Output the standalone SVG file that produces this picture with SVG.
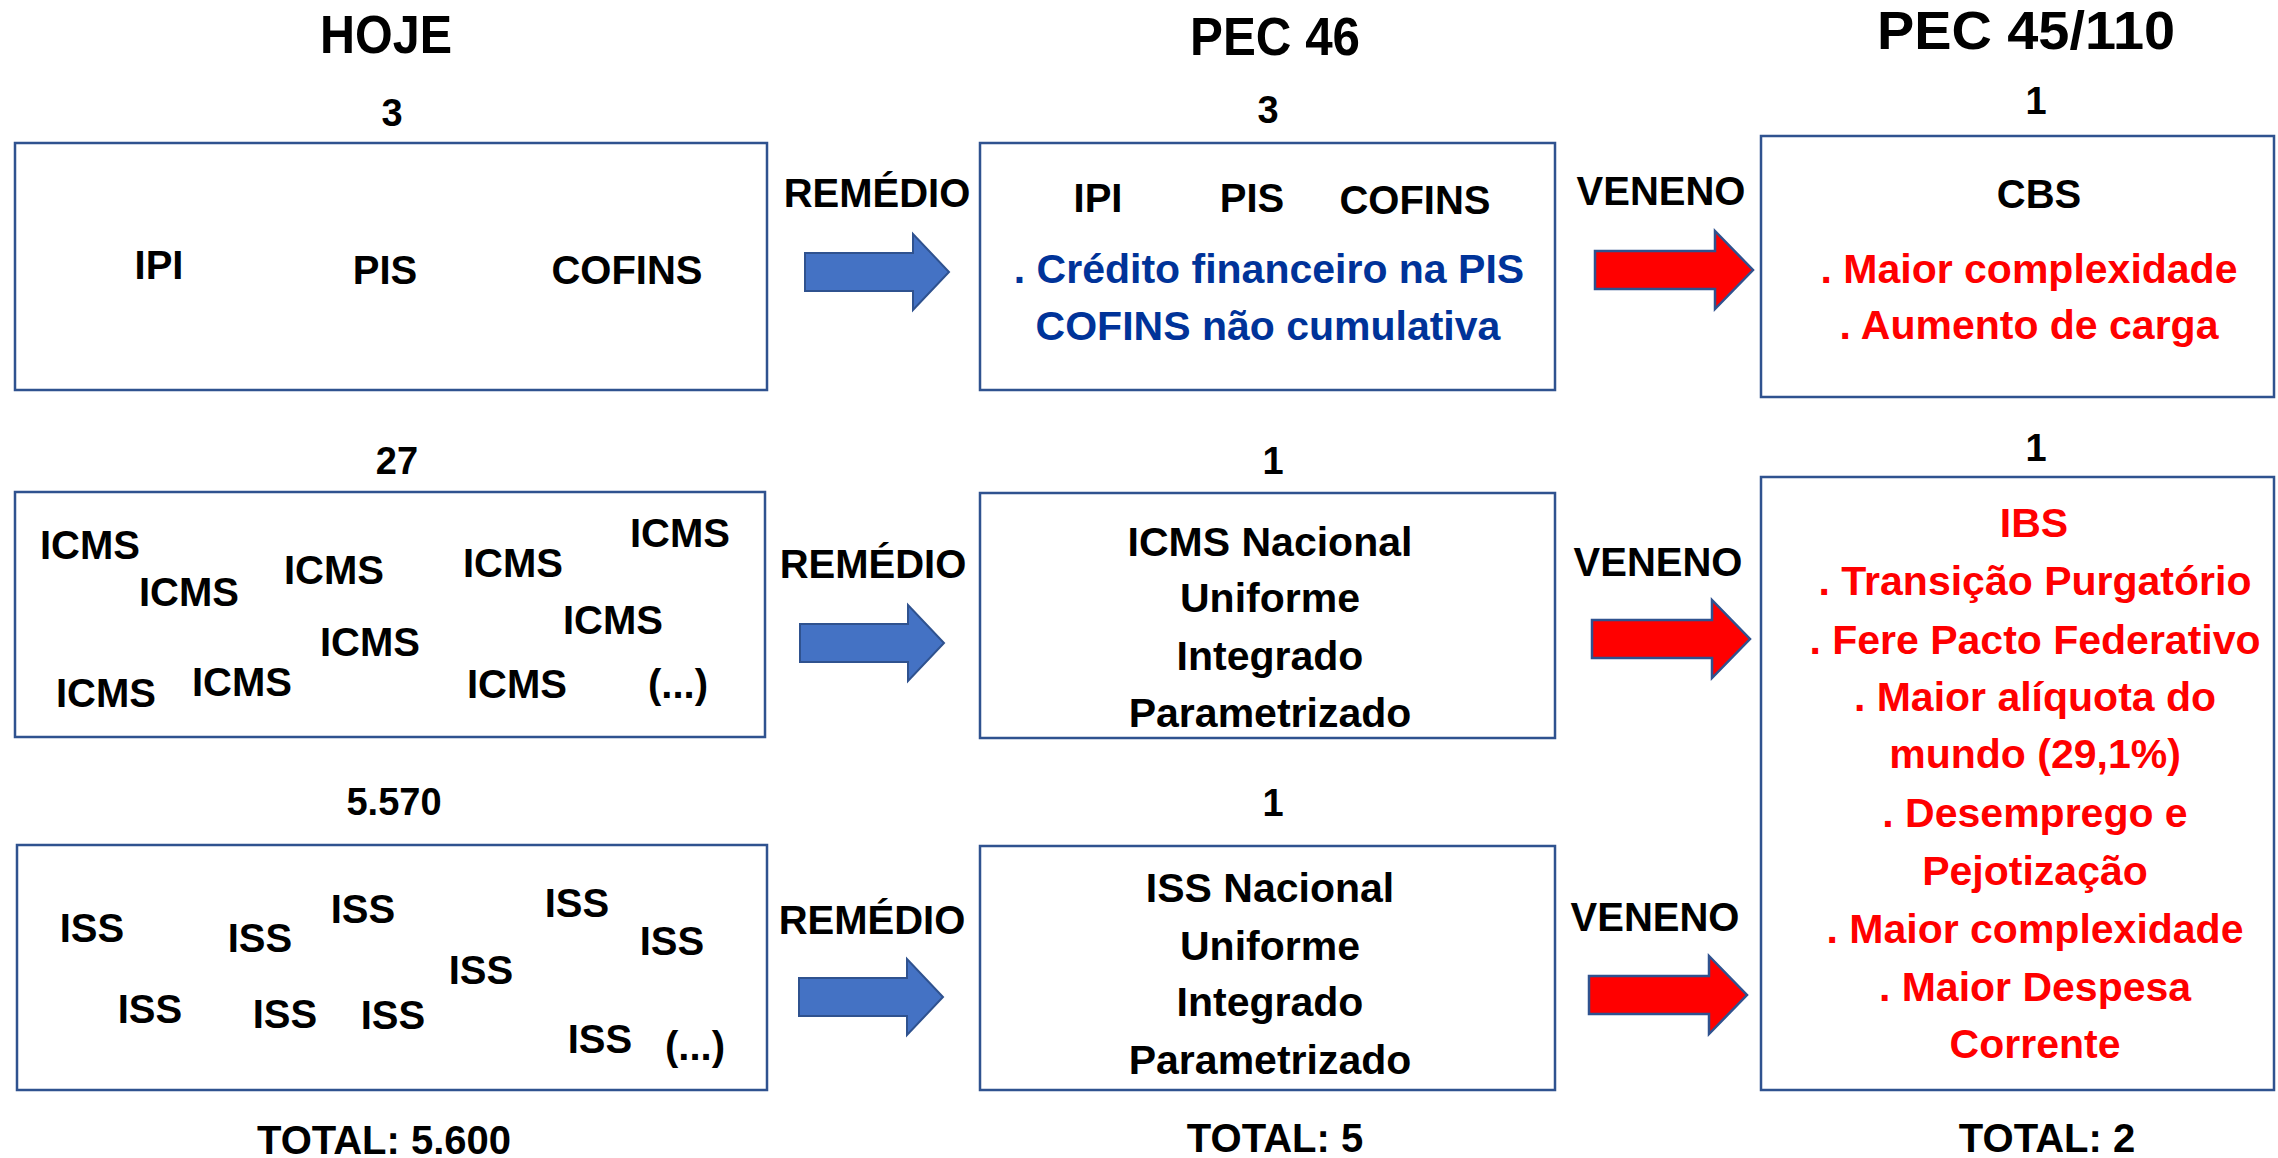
<svg xmlns="http://www.w3.org/2000/svg" width="2278" height="1158" viewBox="0 0 2278 1158">
<style>
text{font-family:"Liberation Sans",Arial,sans-serif;font-weight:bold;text-anchor:middle;fill:#000}
.title{font-size:54px}
.num{font-size:38px}
.total{font-size:40px}
.lbl{font-size:40px}
.item{font-size:40px}
.big{font-size:41px}
.blue{fill:#003399}
.red{fill:#FF0000}
.box{fill:#fff;stroke:#2F528F;stroke-width:2.5}
</style>
<defs>
<path id="blueArrow" d="M0,-19 L108,-19 L108,-38 L144,0 L108,38 L108,19 L0,19 Z" fill="#4472C4" stroke="#2F528F" stroke-width="2"/>
<path id="redArrow" d="M0,-19 L120,-19 L120,-39 L158,0 L120,39 L120,19 L0,19 Z" fill="#FF0000" stroke="#2F528F" stroke-width="2.5"/>
</defs>
<rect width="2278" height="1158" fill="#fff"/>

<g id="headers">
<text class="title" x="386" y="53" textLength="132" lengthAdjust="spacingAndGlyphs">HOJE</text>
<text class="title" x="1275" y="55" textLength="170" lengthAdjust="spacingAndGlyphs">PEC 46</text>
<text class="title" x="2026" y="49" textLength="298" lengthAdjust="spacingAndGlyphs">PEC 45/110</text>
</g>

<g id="counts">
<text class="num" x="392" y="126">3</text>
<text class="num" x="1268" y="123">3</text>
<text class="num" x="2036" y="114">1</text>
<text class="num" x="397" y="474">27</text>
<text class="num" x="1273" y="474">1</text>
<text class="num" x="2036" y="461">1</text>
<text class="num" x="394" y="815">5.570</text>
<text class="num" x="1273" y="816">1</text>
</g>

<g id="totals">
<text class="total" x="384" y="1154">TOTAL: 5.600</text>
<text class="total" x="1275" y="1152">TOTAL: 5</text>
<text class="total" x="2047" y="1152">TOTAL: 2</text>
</g>

<g id="connectors">
<use href="#blueArrow" x="805" y="272"/>
<use href="#blueArrow" x="800" y="643"/>
<use href="#blueArrow" x="799" y="997"/>
<use href="#redArrow" x="1595" y="270"/>
<use href="#redArrow" x="1592" y="639"/>
<use href="#redArrow" x="1589" y="995"/>
<text class="lbl" x="877" y="207">REMÉDIO</text>
<text class="lbl" x="873" y="578">REMÉDIO</text>
<text class="lbl" x="872" y="934">REMÉDIO</text>
<text class="lbl" x="1661" y="205">VENENO</text>
<text class="lbl" x="1658" y="576">VENENO</text>
<text class="lbl" x="1655" y="931">VENENO</text>
</g>

<g id="hoje-federal">
<rect class="box" x="15" y="143" width="752" height="247"/>
<text class="item" x="159" y="279">IPI</text>
<text class="item" x="385" y="284">PIS</text>
<text class="item" x="627" y="284">COFINS</text>
</g>

<g id="pec46-federal">
<rect class="box" x="980" y="143" width="575" height="247"/>
<text class="item" x="1098" y="212">IPI</text>
<text class="item" x="1252" y="212">PIS</text>
<text class="item" x="1415" y="214">COFINS</text>
<text class="big blue" x="1269" y="283">. Crédito financeiro na PIS</text>
<text class="big blue" x="1268" y="340">COFINS não cumulativa</text>
</g>

<g id="pec45-cbs">
<rect class="box" x="1761" y="136" width="513" height="261"/>
<text class="item" x="2039" y="208">CBS</text>
<text class="big red" x="2029" y="283">. Maior complexidade</text>
<text class="big red" x="2029" y="339">. Aumento de carga</text>
</g>

<g id="hoje-icms">
<rect class="box" x="15" y="492" width="750" height="245"/>
<text class="item" x="90" y="559">ICMS</text>
<text class="item" x="189" y="606">ICMS</text>
<text class="item" x="334" y="584">ICMS</text>
<text class="item" x="513" y="577">ICMS</text>
<text class="item" x="680" y="547">ICMS</text>
<text class="item" x="613" y="634">ICMS</text>
<text class="item" x="370" y="656">ICMS</text>
<text class="item" x="106" y="707">ICMS</text>
<text class="item" x="242" y="696">ICMS</text>
<text class="item" x="517" y="698">ICMS</text>
<text class="item" x="678" y="698">(...)</text>
</g>

<g id="pec46-icms">
<rect class="box" x="980" y="493" width="575" height="245"/>
<text class="big" x="1270" y="556">ICMS Nacional</text>
<text class="big" x="1270" y="612">Uniforme</text>
<text class="big" x="1270" y="670">Integrado</text>
<text class="big" x="1270" y="727">Parametrizado</text>
</g>

<g id="pec45-ibs">
<rect class="box" x="1761" y="477" width="513" height="613"/>
<text class="big red" x="2034" y="537">IBS</text>
<text class="big red" x="2035" y="595">. Transição Purgatório</text>
<text class="big red" x="2035" y="654">. Fere Pacto Federativo</text>
<text class="big red" x="2035" y="711">. Maior alíquota do</text>
<text class="big red" x="2035" y="768">mundo (29,1%)</text>
<text class="big red" x="2035" y="827">. Desemprego e</text>
<text class="big red" x="2035" y="885">Pejotização</text>
<text class="big red" x="2035" y="943">. Maior complexidade</text>
<text class="big red" x="2035" y="1001">. Maior Despesa</text>
<text class="big red" x="2035" y="1058">Corrente</text>
</g>

<g id="hoje-iss">
<rect class="box" x="17" y="845" width="750" height="245"/>
<text class="item" x="92" y="942">ISS</text>
<text class="item" x="260" y="952">ISS</text>
<text class="item" x="363" y="923">ISS</text>
<text class="item" x="577" y="917">ISS</text>
<text class="item" x="672" y="955">ISS</text>
<text class="item" x="481" y="984">ISS</text>
<text class="item" x="150" y="1023">ISS</text>
<text class="item" x="285" y="1028">ISS</text>
<text class="item" x="393" y="1029">ISS</text>
<text class="item" x="600" y="1053">ISS</text>
<text class="item" x="695" y="1060">(...)</text>
</g>

<g id="pec46-iss">
<rect class="box" x="980" y="846" width="575" height="244"/>
<text class="big" x="1270" y="902">ISS Nacional</text>
<text class="big" x="1270" y="960">Uniforme</text>
<text class="big" x="1270" y="1016">Integrado</text>
<text class="big" x="1270" y="1074">Parametrizado</text>
</g>
</svg>
